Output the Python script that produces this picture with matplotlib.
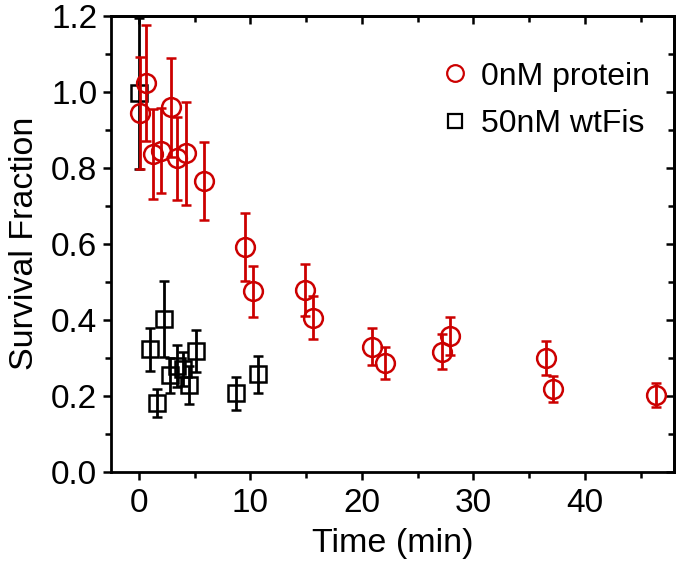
import matplotlib
matplotlib.use("Agg")
import matplotlib.pyplot as plt
from matplotlib.ticker import MultipleLocator, FormatStrFormatter
from matplotlib.lines import Line2D

plt.rcParams['font.family'] = ['Liberation Sans', 'DejaVu Sans']

# 0nM protein (red circles)
t_ctrl = [0.06, 0.66, 1.25, 2.0, 2.84, 3.43, 4.24, 5.8, 9.52, 10.27,
          14.92, 15.64, 20.9, 22.1, 27.2, 27.9, 36.5, 37.15, 46.4]
v_ctrl = [0.944, 1.024, 0.836, 0.845, 0.959, 0.825, 0.838, 0.765, 0.591, 0.475,
          0.478, 0.405, 0.329, 0.287, 0.316, 0.357, 0.300, 0.217, 0.202]
e_ctrl = [0.147, 0.152, 0.118, 0.112, 0.13, 0.11, 0.136, 0.103, 0.089, 0.067,
          0.068, 0.057, 0.049, 0.042, 0.046, 0.05, 0.045, 0.035, 0.032]

# 50nM wtFis (black squares)
t_fis = [0.0, 1.02, 1.61, 2.24, 2.81, 3.45, 4.0, 4.48, 5.1, 8.72, 10.66]
v_fis = [0.996, 0.322, 0.180, 0.401, 0.254, 0.278, 0.270, 0.228, 0.318, 0.206, 0.256]
e_fis = [0.2, 0.056, 0.037, 0.10, 0.046, 0.055, 0.045, 0.05, 0.056, 0.044, 0.048]

red = '#cc0000'

fig = plt.figure(figsize=(6.77, 5.61), dpi=100)
ax = fig.add_axes([0.164, 0.1595, 0.8316, 0.812])

ax.errorbar(t_fis, v_fis, yerr=e_fis, fmt='s', ms=12, mfc='none', mec='black',
            mew=1.8, ecolor='black', elinewidth=2.0, capsize=3.8, capthick=2.0,
            zorder=2)
ax.errorbar(t_ctrl, v_ctrl, yerr=e_ctrl, fmt='o', ms=13.5, mfc='none', mec=red,
            mew=1.8, ecolor=red, elinewidth=2.0, capsize=3.8, capthick=2.0,
            zorder=3)

ax.set_xlim(-2.5, 48)
ax.set_ylim(0, 1.2)
ax.xaxis.set_major_locator(MultipleLocator(10))
ax.xaxis.set_minor_locator(MultipleLocator(5))
ax.yaxis.set_major_locator(MultipleLocator(0.2))
ax.yaxis.set_minor_locator(MultipleLocator(0.1))
ax.yaxis.set_major_formatter(FormatStrFormatter('%.1f'))

for s in ax.spines.values():
    s.set_linewidth(2.0)
ax.tick_params(which='both', width=1.8, labelsize=24, pad=4,
               direction='out', top=False, right=False)
ax.tick_params(axis='x', which='both', pad=6)
ax.tick_params(which='major', length=6)
ax.tick_params(which='minor', length=4)

# mirrored inward ticks on top and right
axt = ax.secondary_xaxis('top')
axt.xaxis.set_major_locator(MultipleLocator(10))
axt.xaxis.set_minor_locator(MultipleLocator(5))
axt.tick_params(which='both', direction='in', width=1.8, labeltop=False)
axt.tick_params(which='major', length=6)
axt.tick_params(which='minor', length=4)
axt.spines['top'].set_linewidth(2.0)
axr = ax.secondary_yaxis('right')
axr.yaxis.set_major_locator(MultipleLocator(0.2))
axr.yaxis.set_minor_locator(MultipleLocator(0.1))
axr.tick_params(which='both', direction='in', width=1.8, labelright=False)
axr.tick_params(which='major', length=6)
axr.tick_params(which='minor', length=4)
axr.spines['right'].set_linewidth(2.0)

ax.set_xlabel('Time (min)', fontsize=24.5, labelpad=6)
ax.set_ylabel('Survival Fraction', fontsize=24.5, labelpad=8)

handles = [
    Line2D([], [], ls='none', marker='o', ms=12, mfc='none', mec=red, mew=1.6),
    Line2D([], [], ls='none', marker='s', ms=10, mfc='none', mec='black', mew=1.6),
]
ax.legend(handles, ['0nM protein', '50nM wtFis'], loc='upper left',
          bbox_to_anchor=(0.584, 0.9), borderaxespad=0, borderpad=0,
          frameon=False, fontsize=23, handletextpad=0.33, labelspacing=0.55,
          handlelength=0.95)

fig.savefig('out.png', dpi=100)
